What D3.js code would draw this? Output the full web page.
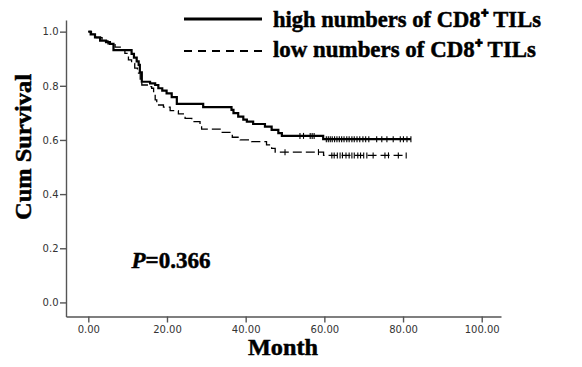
<!DOCTYPE html>
<html>
<head>
<meta charset="utf-8">
<script src="https://cdn.jsdelivr.net/npm/d3@7"></script>
<style>
  body { margin: 0; background: #fff; }
  svg { display: block; }
  .tick text { font-family: "DejaVu Sans", sans-serif; font-size: 10px; fill: #333; }
  .tick line, .domain { stroke: #555; stroke-width: 1.4; }
  .serif { font-family: "Liberation Serif", "Times New Roman", serif; font-weight: bold; fill: #000; stroke: #000; stroke-width: 0.5; }
</style>
</head>
<body>
<div id="chart"></div>
<script>
// Tick values
const xTicks = [0, 20, 40, 60, 80, 100];
const yTicks = [0, 0.2, 0.4, 0.6, 0.8, 1.0];

// high numbers of CD8+ TILs: event times and survival after each event
const highTimes = [0.6, 1.7, 3.0, 4.5, 5.5, 6.4, 11.0, 11.6, 12.3, 12.8, 13.1, 13.6, 15.7, 17.0, 17.8, 18.8, 19.9, 21.2, 22.5, 29.2, 36.4, 36.9, 38.1, 39.4, 40.3, 41.9, 44.9, 46.6, 48.3, 49.2, 59.7];
const highSurv = [0.99, 0.979, 0.967, 0.961, 0.955, 0.932, 0.918, 0.904, 0.89, 0.877, 0.85, 0.815, 0.809, 0.803, 0.791, 0.782, 0.772, 0.758, 0.733, 0.721, 0.711, 0.699, 0.686, 0.675, 0.668, 0.659, 0.649, 0.637, 0.625, 0.615, 0.603];
const highCensor = [53.8, 54.7, 56.4, 56.9, 57.4, 60.5, 61.0, 61.5, 62.0, 62.6, 63.2, 63.8, 64.4, 65.0, 65.7, 66.3, 67.0, 67.6, 68.3, 69.0, 69.8, 70.5, 71.3, 73.3, 74.6, 75.9, 77.5, 79.3, 80.1, 81.0, 82.0];

// low numbers of CD8+ TILs
const lowTimes = [0.8, 2.0, 3.5, 5.0, 6.8, 8.5, 9.3, 10.2, 11.0, 11.8, 12.5, 13.2, 13.6, 15.3, 16.1, 16.6, 17.0, 17.4, 19.1, 20.8, 22.9, 24.6, 26.3, 28.4, 28.8, 33.5, 36.6, 38.6, 41.5, 45.3, 46.6, 47.5, 59.8];
const lowSurv = [0.99, 0.978, 0.966, 0.955, 0.943, 0.932, 0.92, 0.896, 0.883, 0.865, 0.847, 0.825, 0.803, 0.797, 0.791, 0.77, 0.748, 0.729, 0.721, 0.708, 0.696, 0.68, 0.668, 0.652, 0.64, 0.628, 0.61, 0.6, 0.594, 0.582, 0.569, 0.555, 0.543];
const lowCensor = [50.0, 58.5, 61.9, 62.5, 63.3, 64.0, 64.6, 65.5, 66.3, 67.0, 67.6, 68.5, 69.2, 70.0, 70.8, 72.4, 75.4, 76.3, 78.8, 80.8];

const legendLabels = ['high numbers of CD8\u207A TILs', 'low numbers of CD8\u207A TILs'];

const width = 582, height = 367;

const svg = d3.select('#chart').append('svg')
  .attr('width', width)
  .attr('height', height);

// scales (domains extend a bit past the data like SPSS does)
const x = d3.scaleLinear().domain([-5.67, 104.9]).range([66, 501]);
const y = d3.scaleLinear().domain([-0.052, 1.043]).range([316.5, 20]);

// Axes
svg.append('g')
  .attr('transform', `translate(0,${y(-0.052)})`)
  .call(d3.axisBottom(x).tickValues(xTicks).tickSize(6).tickSizeOuter(0).tickFormat(d3.format('.2f')))
  .call(g => g.selectAll('.tick text').attr('dy', 0).attr('y', 16.5));

svg.append('g')
  .attr('transform', `translate(${x(-5.67)},0)`)
  .call(d3.axisLeft(y).tickValues(yTicks).tickSize(6).tickSizeOuter(0).tickFormat(d3.format('.1f')))
  .call(g => g.selectAll('.tick text').attr('x', -7.5));

// build step data
function stepPoints(times, surv, end) {
  const pts = [[0, 1]];
  times.forEach((t, i) => pts.push([t, surv[i]]));
  pts.push([end, surv[surv.length - 1]]);
  return pts;
}
function survAt(times, surv, t) {
  let s = 1;
  times.forEach((tt, i) => { if (tt <= t) s = surv[i]; });
  return s;
}

const line = d3.line()
  .x(d => x(d[0]))
  .y(d => y(d[1]))
  .curve(d3.curveStepAfter);

const groups = [
  { times: lowTimes, surv: lowSurv, censor: lowCensor, width: 1.3, dash: '9,4' },
  { times: highTimes, surv: highSurv, censor: highCensor, width: 2.2, dash: null }
];

groups.forEach(g => {
  const end = d3.max(g.censor);
  svg.append('path')
    .datum(stepPoints(g.times, g.surv, end))
    .attr('d', line)
    .attr('fill', 'none')
    .attr('stroke', '#000')
    .attr('stroke-width', g.width)
    .attr('stroke-dasharray', g.dash);

  svg.selectAll(null)
    .data(g.censor)
    .join('line')
    .attr('x1', d => x(d))
    .attr('x2', d => x(d))
    .attr('y1', d => y(survAt(g.times, g.surv, d)) - 3)
    .attr('y2', d => y(survAt(g.times, g.surv, d)) + 3)
    .attr('stroke', '#000')
    .attr('stroke-width', 1.1);
});

// Axis titles
svg.append('text')
  .attr('class', 'serif')
  .attr('transform', 'translate(31,147) rotate(-90)')
  .attr('text-anchor', 'middle')
  .style('font-size', '24px')
  .attr('textLength', 146)
  .attr('lengthAdjust', 'spacingAndGlyphs')
  .text('Cum Survival');

svg.append('text')
  .attr('class', 'serif')
  .attr('x', 283)
  .attr('y', 355)
  .attr('text-anchor', 'middle')
  .style('font-size', '24px')
  .attr('textLength', 70)
  .attr('lengthAdjust', 'spacingAndGlyphs')
  .text('Month');

// P value
const pText = svg.append('text')
  .attr('class', 'serif')
  .attr('x', 131.5)
  .attr('y', 268)
  .style('font-size', '23px')
  .attr('textLength', 79)
  .attr('lengthAdjust', 'spacingAndGlyphs');
pText.append('tspan').style('font-style', 'italic').text('P');
pText.append('tspan').text('=0.366');

// Legend
const legendY = [19, 51];
const textY = [26.5, 57];
const textLen = [268, 263];
legendLabels.forEach((lab, i) => {
  svg.append('line')
    .attr('x1', 184).attr('x2', 262)
    .attr('y1', legendY[i]).attr('y2', legendY[i])
    .attr('stroke', '#000')
    .attr('stroke-width', i === 0 ? 3 : 2)
    .attr('stroke-dasharray', i === 0 ? null : '8,6');

  svg.append('text')
    .attr('class', 'serif')
    .attr('x', 273)
    .attr('y', textY[i])
    .style('font-size', '24px')
    .attr('textLength', textLen[i])
    .attr('lengthAdjust', 'spacingAndGlyphs')
    .text(lab);
});
</script>
</body>
</html>
